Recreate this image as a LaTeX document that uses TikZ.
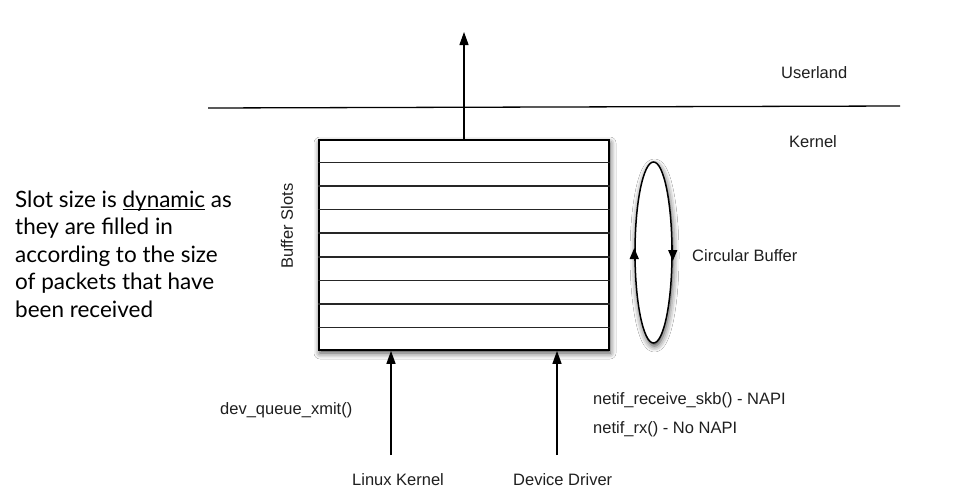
\documentclass[tikz,border=0pt]{standalone}
\usepackage{fontspec}
\setmainfont{Liberation Sans}
\newfontfamily\latofont{Lato}
\usetikzlibrary{arrows.meta,shapes.geometric,shadows.blur,calc}
\newcommand\myul[1]{\setbox0\hbox{#1}\rlap{\rule[-2.5pt]{\wd0}{0.9pt}}#1}
\begin{document}
\begin{tikzpicture}[x=1pt,y=-1pt,
  lbl/.style={font=\fontsize{16.5}{19}\selectfont, inner sep=0, text=black!88},
  note/.style={font=\latofont\fontsize{22.5}{27}\selectfont, anchor=base west, inner sep=0},
  arr/.style={line width=1.2pt, -{Triangle[width=9pt,length=13pt]}},
  sarr/.style={line width=1.4pt, -{Triangle[width=9pt,length=11pt]}},
  slot/.style={line width=1.5pt, black!85},
  shad/.style={blur shadow={shadow xshift=1pt, shadow yshift=-3pt, shadow blur radius=6pt, shadow opacity=75}},
]
\useasboundingbox (0,0) rectangle (969,498);
\fill[white] (0,0) rectangle (969,498);

% separator line
\coordinate (hl) at (208,108);
\coordinate (hr) at (900,106);
\draw[line width=1.3pt] (hl) -- (hr);

% buffer
\node[draw, line width=1.7pt, fill=white, minimum width=290pt, minimum height=210pt, inner sep=0, shad] (buf) at (464,245) {};
\foreach \k in {1,...,8}
  \draw[slot] ($(buf.north west)!\k/9!(buf.south west)$) -- ($(buf.north east)!\k/9!(buf.south east)$);

% up arrow
\coordinate (top) at (464,32);
\draw[arr] (buf.north) -- (top);

% circular buffer
\node[ellipse, draw, line width=1.5pt, fill=white, minimum width=37pt, minimum height=181pt, inner sep=0, shad] (cb) at (653.5,252.5) {};
\draw[sarr] ([yshift=-8pt]cb.west) -- ([yshift=4.5pt]cb.west);
\draw[sarr] ([yshift=8pt]cb.east) -- ([yshift=-8.5pt]cb.east);

% bottom arrows
\coordinate (lk) at (391,455);
\coordinate (dd) at (557,455);
\draw[arr] (lk) -- (lk |- buf.south);
\draw[arr] (dd) -- (dd |- buf.south);

% labels
\node[lbl, anchor=west] (user) at (781,73) {Userland};
\node[lbl] (kern) at (813,142) {Kernel};
\node[lbl, anchor=west] (circ) at (692,256) {Circular Buffer};
\node[lbl, rotate=90] (bs) at (287,226) {Buffer Slots};
\node[lbl, anchor=west] (dq) at (220,410) {dev\_queue\_xmit()};
\node[lbl, anchor=west] (nr) at (593,400) {netif\_receive\_skb() - NAPI};
\node[lbl, anchor=west] (nx) at (593,429) {netif\_rx() - No NAPI};
\node[lbl, anchor=west] (lkt) at (352,480) {Linux Kernel};
\node[lbl, anchor=west] (ddt) at (513,480) {Device Driver};

% note
\node[note] (n1) at (15,207) {Slot size is \myul{dynamic} as};
\node[note] (n2) at (15,234.5) {they are filled in};
\node[note] (n3) at (15,262) {according to the size};
\node[note] (n4) at (15,289.5) {of packets that have};
\node[note] (n5) at (15,317) {been received};
\end{tikzpicture}
\end{document}
